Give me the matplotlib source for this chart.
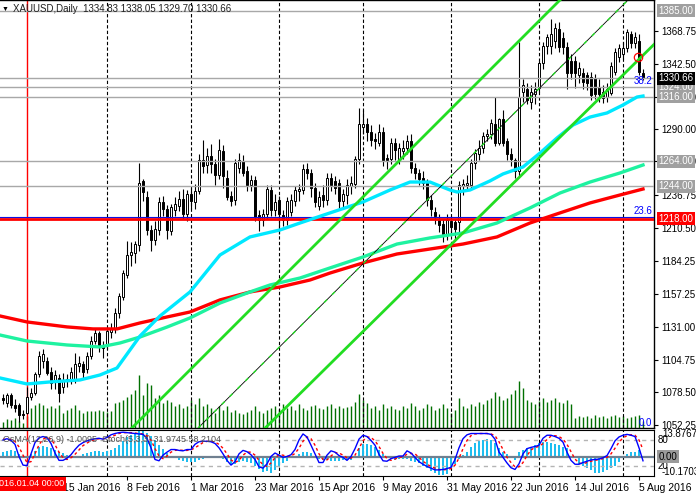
import numpy as np
import matplotlib
matplotlib.use("Agg")
import matplotlib.pyplot as plt
import matplotlib.transforms as mtrans

plt.rcParams['font.family'] = ['Liberation Sans', 'DejaVu Sans']

# bar 0 = 2016.01.04, one step per daily bar (Good Friday has no bar)
first_bar = -6

# OHLC, grouped by month (Dec tail + Jan, Feb, Mar, Apr, May, Jun, Jul, Aug)
opens = [1074, 1070, 1076, 1068, 1068, 1061, 1062, 1075, 1078, 1093, 1104, 1104, 1095, 1088, 1090, 1083, 1089, 1088, 1088, 1100, 1101, 1097, 1108, 1120, 1126, 1116,
         1117, 1127, 1129, 1142, 1155, 1173, 1189, 1190, 1197, 1248, 1235, 1209, 1201, 1209, 1231, 1226, 1208, 1225, 1228, 1234, 1222,
         1238, 1231, 1240, 1265, 1261, 1268, 1262, 1253, 1272, 1251, 1236, 1233, 1259, 1264, 1256, 1245, 1249, 1221, 1217, 1222, 1241, 1225,
         1233, 1221, 1217, 1223, 1232, 1240, 1241, 1258, 1255, 1243, 1228, 1237, 1233, 1251, 1248, 1247, 1232, 1237, 1244, 1246, 1266,
         1292, 1294, 1288, 1282, 1279, 1288, 1267, 1266, 1279, 1265, 1272, 1275, 1280, 1259, 1255, 1251, 1247, 1233, 1223, 1218, 1214, 1206,
         1216, 1215, 1215, 1244, 1245, 1245, 1263, 1270, 1275, 1284, 1286, 1294, 1279, 1298, 1280, 1270, 1265, 1256, 1320, 1322, 1312, 1318,
         1323, 1343, 1357, 1357, 1361, 1370, 1363, 1356, 1345, 1345, 1333, 1335, 1333, 1332, 1331, 1324, 1320, 1316, 1319, 1336, 1348,
         1350, 1355, 1366, 1359, 1361, 1334.83]
highs = [1077, 1078, 1078, 1073, 1070, 1064, 1083, 1082, 1095, 1112, 1113, 1107, 1099, 1096, 1093, 1094, 1093, 1099, 1110, 1108, 1104, 1111, 1124, 1130, 1128, 1120,
         1131, 1134, 1146, 1158, 1177, 1200, 1199, 1200, 1263, 1250, 1240, 1213, 1216, 1235, 1236, 1229, 1230, 1235, 1240, 1242, 1241,
         1243, 1246, 1270, 1281, 1275, 1278, 1266, 1282, 1277, 1257, 1240, 1266, 1271, 1269, 1260, 1253, 1252, 1225, 1226, 1245, 1245, 1238,
         1236, 1225, 1235, 1238, 1244, 1246, 1262, 1263, 1258, 1247, 1240, 1245, 1255, 1255, 1252, 1250, 1242, 1250, 1252, 1268, 1307,
         1305, 1299, 1293, 1287, 1294, 1292, 1270, 1283, 1283, 1279, 1281, 1285, 1286, 1263, 1258, 1256, 1250, 1237, 1227, 1222, 1218, 1222,
         1220, 1218, 1248, 1250, 1253, 1266, 1274, 1281, 1288, 1290, 1298, 1316, 1299, 1305, 1283, 1275, 1267, 1360, 1330, 1327, 1325, 1328,
         1345, 1360, 1366, 1378, 1375, 1376, 1368, 1360, 1350, 1349, 1344, 1339, 1336, 1336, 1334, 1330, 1325, 1327, 1344, 1355, 1358,
         1360, 1370, 1369, 1368, 1366, 1338.05]
lows = [1069, 1067, 1066, 1063, 1055, 1057, 1061, 1072, 1076, 1091, 1098, 1092, 1081, 1081, 1071, 1078, 1083, 1085, 1086, 1095, 1090, 1094, 1105, 1117, 1111, 1106,
        1113, 1122, 1126, 1138, 1153, 1170, 1180, 1182, 1192, 1232, 1205, 1192, 1197, 1205, 1220, 1202, 1205, 1220, 1224, 1218, 1216,
        1226, 1226, 1238, 1255, 1255, 1255, 1245, 1250, 1243, 1233, 1228, 1229, 1255, 1252, 1240, 1240, 1216, 1208, 1212, 1218, 1220, 1220,
        1206, 1212, 1213, 1220, 1228, 1232, 1238, 1250, 1235, 1227, 1225, 1227, 1229, 1240, 1238, 1226, 1226, 1230, 1238, 1243, 1262,
        1286, 1280, 1276, 1274, 1276, 1260, 1258, 1262, 1265, 1262, 1266, 1270, 1255, 1250, 1245, 1242, 1228, 1220, 1214, 1207, 1199, 1201,
        1205, 1200, 1207, 1237, 1240, 1242, 1258, 1265, 1271, 1280, 1282, 1276, 1277, 1276, 1265, 1260, 1251, 1252, 1312, 1310, 1306, 1310,
        1320, 1338, 1350, 1350, 1355, 1352, 1350, 1322, 1330, 1323, 1327, 1322, 1321, 1313, 1314, 1312, 1311, 1312, 1317, 1333, 1344,
        1346, 1352, 1355, 1355, 1333, 1329.70]
closes = [1072, 1076, 1068, 1066, 1060, 1060, 1075, 1078, 1093, 1108, 1109, 1094, 1086, 1092, 1078, 1088, 1088, 1095, 1101, 1102, 1095, 1108, 1120, 1126, 1115, 1114,
          1128, 1130, 1142, 1156, 1174, 1189, 1191, 1198, 1247, 1239, 1209, 1201, 1210, 1231, 1226, 1209, 1227, 1230, 1234, 1222, 1238,
          1232, 1240, 1265, 1260, 1268, 1262, 1253, 1273, 1252, 1235, 1232, 1263, 1265, 1255, 1245, 1249, 1219, 1217, 1222, 1242, 1225, 1231,
          1222, 1217, 1232, 1233, 1241, 1242, 1258, 1255, 1243, 1231, 1235, 1233, 1251, 1245, 1243, 1232, 1238, 1245, 1247, 1266, 1294,
          1294, 1288, 1281, 1280, 1288, 1265, 1265, 1279, 1273, 1275, 1275, 1280, 1259, 1255, 1250, 1247, 1233, 1226, 1220, 1213, 1206, 1217,
          1211, 1210, 1245, 1246, 1247, 1263, 1271, 1275, 1284, 1286, 1295, 1279, 1298, 1279, 1270, 1266, 1256, 1316, 1325, 1313, 1320, 1322,
          1343, 1357, 1364, 1366, 1371, 1356, 1356, 1335, 1335, 1335, 1339, 1328, 1327, 1317, 1318, 1318, 1315, 1322, 1341, 1352, 1355,
          1355, 1368, 1359, 1364, 1336, 1330.66]

# tick volume (bar height in px of the price window)
volume = [6, 9, 8, 10, 7, 5, 12, 20, 23, 25, 23, 20, 22, 20, 23, 15, 18, 20, 23, 18, 15, 17, 17, 17, 18, 17,
          16, 17, 25, 26, 28, 31, 34, 38, 53, 33, 45, 43, 30, 33, 25, 28, 26, 22, 24, 20, 22,
          28, 24, 30, 22, 24, 20, 15, 22, 18, 22, 16, 18, 15, 14, 16, 18, 22, 17, 15, 18, 20, 22,
          19, 24, 20, 22, 18, 24, 20, 18, 22, 23, 20, 19, 22, 24, 20, 22, 20, 21, 22, 26, 34,
          28, 25, 20, 22, 18, 24, 20, 22, 19, 18, 22, 20, 25, 22, 18, 20, 24, 22, 18, 20, 24, 20,
          15, 18, 30, 22, 20, 24, 22, 26, 24, 28, 30, 36, 32, 28, 30, 34, 38, 47, 40, 28, 26, 24,
          27, 30, 26, 28, 30, 26, 25, 28, 24, 10, 12, 11, 12, 10, 13, 11, 12, 10, 12, 13, 11,
          12, 10, 11, 12, 13, 7]

osma = [2.4, 3.0, 3.3, 3.0, 1.5, 0.5, 0.3, 1.5, 3.0, 4.8, 5.5, 5.2, 4.5, 3.5, 2.6, 1.8, 1.0, 0.5, 0.4, 0.3, 1.5, 2.0, 2.6, 3.0, 2.8, 2.6,
        3.0, 3.5, 4.5, 6.0, 8.0, 10.0, 11.5, 12.5, 13.5, 13.9, 12.5, 10.5, 8.5, 6.0, 4.0, 2.0, 0.5, -1.0, -1.8, -2.4, -2.8,
        -3.0, -2.6, -2.0, -1.2, -0.5, 0.3, 0.5, 0.3, -1.5, -3.0, -4.5, -4.0, -3.0, -2.5, -3.0, -3.5, -5.0, -6.5, -8.0, -7.5, -8.5, -7.0,
        -5.5, -3.5, -2.5, -1.0, 0.3, 1.2, 2.2, 2.6, 2.0, 0.5, -1.5, -2.0, -2.0, -2.2, -2.3, -2.5, -2.0, -1.8, -1.6, 0.5, 4.3,
        6.5, 6.5, 6.1, 5.2, 3.3, 1.5, -1.0, -1.5, -2.0, -1.5, -1.2, -1.5, -2.5, -3.0, -3.5, -5.0, -6.0, -7.5, -8.5, -9.5, -9.8, -9.0,
        -6.0, -4.0, -1.5, 1.0, 2.5, 5.2, 7.1, 8.0, 8.9, 9.3, 8.9, 7.1, 4.3, 2.4, 1.1, -1.0, -2.0, 2.4, 3.3, 4.3, 5.2, 6.0,
        7.0, 7.4, 7.4, 7.0, 6.5, 5.8, 5.0, 4.3, 0.5, -1.0, -4.0, -5.0, -6.0, -7.0, -8.5, -8.5, -8.0, -7.0, -6.0, -5.0, -3.0,
        -1.0, 1.5, 2.4, 2.4, 3.3, -1.0]

stoch_main = [80, 83, 79, 70, 42, 22, 21, 48, 74, 85, 88, 85, 72, 50, 33, 33, 38, 46, 58, 68, 74, 78, 81, 83, 84, 82,
              86, 92, 95, 97, 98, 97, 96, 95, 94, 93, 84, 62, 35, 32, 45, 52, 58, 58, 56, 55, 58,
              58, 70, 76, 77, 77, 76, 72, 62, 48, 33, 22, 30, 48, 56, 53, 46, 35, 18, 15, 25, 42, 50,
              45, 40, 42, 46, 58, 80, 94, 87, 68, 48, 28, 28, 45, 55, 52, 44, 40, 33, 42, 60, 82,
              91, 88, 79, 68, 47, 32, 31, 37, 40, 43, 43, 55, 50, 40, 30, 24, 19, 15, 11, 11, 12, 14,
              17, 35, 62, 83, 92, 95, 95, 95, 95, 95, 93, 82, 52, 40, 27, 16, 12, 25, 48, 60, 63, 65,
              68, 84, 91, 91, 88, 84, 75, 52, 33, 24, 24, 28, 31, 34, 35, 36, 39, 44, 60, 78, 87,
              91, 93, 91, 88, 62, 32]
stoch_signal = [82, 81, 81, 77, 64, 45, 28, 30, 48, 69, 82, 86, 82, 69, 52, 39, 35, 39, 47, 57, 67, 73, 78, 81, 83, 83,
                84, 87, 91, 95, 97, 97, 97, 96, 95, 94, 90, 80, 60, 43, 37, 43, 52, 56, 57, 56, 56,
                57, 62, 68, 74, 77, 77, 75, 70, 61, 48, 34, 28, 33, 45, 52, 52, 45, 33, 23, 19, 27, 39,
                46, 45, 42, 43, 49, 61, 77, 87, 83, 68, 48, 35, 34, 43, 51, 50, 45, 39, 38, 45, 61,
                78, 87, 86, 78, 65, 49, 37, 33, 36, 40, 42, 47, 49, 48, 40, 31, 24, 19, 15, 12, 11, 12,
                14, 22, 38, 60, 79, 90, 94, 95, 95, 95, 94, 90, 76, 58, 40, 28, 18, 18, 28, 44, 57, 63,
                65, 72, 81, 89, 90, 88, 82, 70, 53, 36, 27, 25, 28, 31, 33, 35, 37, 40, 48, 61, 75,
                85, 90, 92, 91, 80, 58]

ma_fast_x = [-6.75, 0, 5.75, 13.25, 18.25, 22.5, 28.25, 33.25, 40.75, 48.25, 55.75, 63.25, 68.25, 75.75, 84, 90.75,
             95.75, 100.75, 105.75, 107.5, 110.75, 115.75, 119, 124, 128.25, 132.5, 136.5, 140.75, 145, 149, 152.5, 154]
ma_fast_y = [1090.0, 1085.2, 1086.8, 1088.4, 1092.4, 1098.0, 1123.7, 1139.8, 1159.1, 1188.8, 1203.3, 1208.9, 1214.5, 1222.6,
             1231.4, 1241.0, 1247.4, 1247.4, 1241.0, 1239.4, 1241.0, 1248.3, 1253.9, 1259.5, 1270.7, 1282.8, 1293.2, 1299.6,
             1302.9, 1309.3, 1315.7, 1316.5]
ma_mid_x = [-6.75, 0, 10, 18.25, 23.25, 28.25, 35, 40.75, 48.25, 55.75, 60.75, 68.25, 75.75, 84, 92.5, 100.75, 109,
            117.5, 125.75, 133.25, 140.75, 148.25, 154]
ma_mid_y = [1124.5, 1119.7, 1116.5, 1114.9, 1118.1, 1122.9, 1130.9, 1138.2, 1150.2, 1159.1, 1164.7, 1170.3, 1178.4,
            1187.2, 1197.6, 1202.5, 1206.5, 1214.5, 1226.6, 1238.6, 1247.4, 1254.7, 1261.1]
ma_slow_x = [-6.75, 0, 10, 16.5, 22.5, 28.25, 35, 40.75, 48.25, 55.75, 63.25, 70.75, 75.75, 84, 92.5, 100.75, 109,
             117.5, 125.75, 133.25, 140.75, 148.25, 154]
ma_slow_y = [1139.8, 1135.0, 1131.0, 1129.4, 1129.4, 1134.2, 1139.0, 1143.0, 1152.7, 1159.1, 1163.1, 1168.7, 1174.3,
             1182.4, 1189.6, 1193.6, 1197.6, 1203.3, 1214.5, 1222.6, 1230.6, 1237.0, 1241.8]

# rising channel, two points per line (bar, price)
chan_upper = [(73.25, 1200.9), (133.25, 1393.65)]
chan_middle = [(75.75, 1155.3), (150.25, 1393.65)]
chan_lower = [(92.0, 1152.7), (155.75, 1354.8)]

level_lines = [1385.0, 1330.66, 1324.0, 1316.0, 1264.0, 1244.0]
support = 1218.0
month_starts = [20, 41, 63, 84, 106, 128, 149]
date_ticks = [9, 25, 41, 57, 73, 89, 105, 121, 137, 153]
date_labels = ['15 Jan 2016', '8 Feb 2016', '1 Mar 2016', '23 Mar 2016', '15 Apr 2016', '9 May 2016',
               '31 May 2016', '22 Jun 2016', '14 Jul 2016', '5 Aug 2016']
price_ticks = [1368.75, 1342.50, 1316.00, 1290.00, 1264.00, 1236.75, 1210.50, 1184.25, 1157.25,
               1131.00, 1104.75, 1078.50, 1052.25]

bars = np.arange(first_bar, first_bar + len(closes))
o = np.array(opens, float)
c = np.array(closes, float)

W, H = 696, 496
fig = plt.figure(figsize=(W / 100, H / 100), dpi=100)
ax = fig.add_axes([0, 68 / H, 654 / W, 428 / H])
ax_osc = fig.add_axes([0, 20 / H, 654 / W, 46 / H])

ax.set_xlim(-6.75, 156.75)
ax.set_ylim(1049.8, 1393.65)

# volume at the bottom of the price window
ax.vlines(bars, 0, np.array(volume) / 428.0, transform=ax.get_xaxis_transform(),
          color='#007000', lw=1, zorder=1)

for m in month_starts:
    ax.axvline(m, color='black', lw=0.8, ls=(0, (3, 2)), zorder=1)
    ax_osc.axvline(m, color='black', lw=0.8, ls=(0, (3, 2)), zorder=1)
ax.axvline(0, color='red', lw=1, zorder=2)
ax_osc.axvline(0, color='red', lw=1, zorder=2)

# candles
ax.vlines(bars, lows, highs, color='black', lw=0.8, zorder=3)
body = np.maximum(np.abs(c - o), 0.5)
face = np.where(c >= o, 'white', 'black')
ax.bar(bars, body, bottom=np.minimum(o, c), width=0.62, color=face,
       edgecolor='black', linewidth=0.7, zorder=3)

for lv in level_lines:
    ax.axhline(lv, color='#A8A8A8', lw=1, zorder=4)
ax.axhline(support, color='red', lw=2, zorder=4)
ax.axhline(support + 1.2, color='#1010E0', lw=0.8, zorder=4)

ax.plot(ma_slow_x, ma_slow_y, color='#FF0000', lw=2.4, zorder=5)
ax.plot(ma_mid_x, ma_mid_y, color='#1EF2A0', lw=2.4, zorder=5)
ax.plot(ma_fast_x, ma_fast_y, color='#00E8FF', lw=2.4, zorder=5)

green = '#22DD22'
ax.axline(chan_upper[0], chan_upper[1], color=green, lw=2, zorder=6)
ax.axline(chan_lower[0], chan_lower[1], color=green, lw=2, zorder=6)
ax.axline(chan_middle[0], chan_middle[1], color='black', lw=0.6, zorder=6)
ax.axline(chan_middle[0], chan_middle[1], color=green, lw=1, ls=(0, (3, 5)), zorder=6)

ax.plot([152.75], [1348], marker='o', ms=6, mfc='none', mec='red', mew=0.9, zorder=7)

ax.text(156.3, 1328.5, '38.2', color='blue', fontsize=7, ha='right', va='center', zorder=8)
ax.text(156.3, 1224.5, '23.6', color='blue', fontsize=7, ha='right', va='center', zorder=8)
ax.text(156.3, 1053.5, '0.0', color='blue', fontsize=7, ha='right', va='center', zorder=8)

ax.set_xticks([])
ax.yaxis.set_ticks_position('right')
ax.set_yticks(price_ticks)
ax.set_yticklabels([f'{p:.2f}' for p in price_ticks])
ax.tick_params(axis='y', direction='out', length=3, pad=2, labelsize=7)
ax.spines['left'].set_visible(False)
for s in ['right', 'top', 'bottom']:
    ax.spines[s].set_linewidth(1)

tr = mtrans.blended_transform_factory(ax.transAxes, ax.transData)
boxes = [(1385.00, '#A0A0A0', 'white'), (1324.00, '#A0A0A0', 'white'), (1316.00, '#A0A0A0', 'white'),
         (1330.66, 'black', 'white'), (1264.00, '#A0A0A0', 'white'), (1244.00, '#A0A0A0', 'white'),
         (1218.00, 'red', 'white')]
for val, bg, fg in boxes:
    ax.text(1.007, val, f'{val:.2f}', transform=tr, fontsize=7, color=fg, ha='left', va='center',
            clip_on=False, bbox=dict(facecolor=bg, edgecolor='none', pad=1.2), zorder=9)

# oscillator window: OsMA histogram + stochastic
ax_osc.set_xlim(-6.75, 156.75)
ax_osc.set_ylim(-10.1703, 13.8767)
ax_osc.bar(bars, osma, width=0.7, color='#1EBEF0', zorder=2)
ax_osc.axhline(0, color='#708090', lw=1.6, zorder=3)
ax_osc.set_yticks([])
ax_osc.spines['left'].set_visible(False)
ax_osc.set_xticks(date_ticks)
ax_osc.set_xticklabels(date_labels, ha='left')
ax_osc.tick_params(axis='x', direction='out', length=3, pad=2, labelsize=7.5)

ax_st = ax_osc.twinx()
ax_st.set_ylim(-3.1, 103.1)
ax_st.set_yticks([])
for s in ax_st.spines.values():
    s.set_visible(False)
ax_st.axhline(80, color='#B4B4B4', lw=1, ls=(0, (3, 3)))
ax_st.axhline(20, color='#B4B4B4', lw=1, ls=(0, (3, 3)))
ax_st.plot(bars, stoch_signal, color='red', lw=1, ls=(0, (2, 2)))
ax_st.plot(bars, stoch_main, color='blue', lw=1)

tro = mtrans.blended_transform_factory(ax_osc.transAxes, ax_osc.transData)
trs = mtrans.blended_transform_factory(ax_st.transAxes, ax_st.transData)
ax_st.text(1.005, 80, '80', transform=trs, fontsize=7, va='center', clip_on=False)
ax_st.text(1.005, 20, '20', transform=trs, fontsize=7, va='center', clip_on=False)
ax_st.text(1.012, 11.6, '13.8767', transform=tro, fontsize=7, va='center', clip_on=False)
ax_st.text(1.012, -7.9, '-10.1703', transform=tro, fontsize=7, va='center', clip_on=False)
ax_st.text(1.007, 0, '0.00', transform=tro, fontsize=7, va='center', clip_on=False,
           bbox=dict(facecolor='#9A9A9A', edgecolor='none', pad=1))

fig.text(13 / W, 1 - 9 / H, 'XAUUSD,Daily  1334.83 1338.05 1329.70 1330.66', fontsize=7,
         color='#202020', va='center')
fig.text(2 / W, 1 - 9.5 / H, '\u25bc', fontsize=5, color='black', va='center')
fig.text(3 / W, 1 - 440 / H, 'OsMA(12,26,9) -1.0095  Stoch(5,3,3) 31.9745 58.2104', fontsize=6.5,
         color='#505050', va='center', zorder=10)
fig.text(29 / W, 1 - 484 / H, '2016.01.04 00:00', fontsize=6.5, color='white', ha='center',
         va='center', bbox=dict(facecolor='red', edgecolor='none', pad=1.5), zorder=10)

fig.savefig('out.png', dpi=100, facecolor='white')
